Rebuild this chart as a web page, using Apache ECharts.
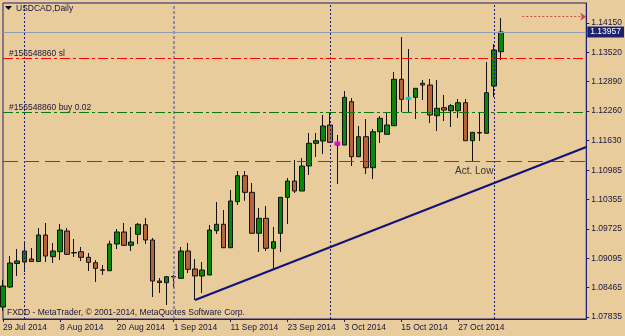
<!DOCTYPE html>
<html><head><meta charset="utf-8">
<script src="https://cdn.jsdelivr.net/npm/echarts@6.0.0/dist/echarts.min.js"></script>
<style>html,body{margin:0;padding:0;background:#e9cc9c;}#c{width:625px;height:336px;}</style>
</head><body><div id="c"></div><script>
const dates = ['29 Jul 2014','30 Jul 2014','31 Jul 2014','1 Aug 2014','4 Aug 2014','5 Aug 2014','6 Aug 2014','7 Aug 2014','8 Aug 2014','11 Aug 2014',
'12 Aug 2014','13 Aug 2014','14 Aug 2014','15 Aug 2014','18 Aug 2014','19 Aug 2014','20 Aug 2014','21 Aug 2014','22 Aug 2014','25 Aug 2014',
'26 Aug 2014','27 Aug 2014','28 Aug 2014','29 Aug 2014','1 Sep 2014','2 Sep 2014','3 Sep 2014','4 Sep 2014','5 Sep 2014','8 Sep 2014',
'9 Sep 2014','10 Sep 2014','11 Sep 2014','12 Sep 2014','15 Sep 2014','16 Sep 2014','17 Sep 2014','18 Sep 2014','19 Sep 2014','22 Sep 2014',
'23 Sep 2014','24 Sep 2014','25 Sep 2014','26 Sep 2014','29 Sep 2014','30 Sep 2014','1 Oct 2014','2 Oct 2014','3 Oct 2014','6 Oct 2014',
'7 Oct 2014','8 Oct 2014','9 Oct 2014','10 Oct 2014','13 Oct 2014','14 Oct 2014','15 Oct 2014','16 Oct 2014','17 Oct 2014','20 Oct 2014',
'21 Oct 2014','22 Oct 2014','23 Oct 2014','24 Oct 2014','27 Oct 2014','28 Oct 2014','29 Oct 2014','30 Oct 2014','31 Oct 2014','3 Nov 2014',
'4 Nov 2014','5 Nov 2014','6 Nov 2014','7 Nov 2014','10 Nov 2014','11 Nov 2014','12 Nov 2014','13 Nov 2014','14 Nov 2014','17 Nov 2014',
'18 Nov 2014','19 Nov 2014','20 Nov 2014'];
const opens = [1.08050,1.08479,1.08984,1.09016,1.09081,1.09027,1.09596,1.09130,1.09238,1.09682,
1.09220,1.09238,1.09117,1.09001,1.08849,1.08829,1.09403,1.09661,1.09375,1.09611,
1.09817,1.09489,1.08608,1.08572,1.08705,1.08666,1.09253,1.08866,1.08716,1.08737,
1.09689,1.09826,1.09323,1.10312,1.10870,1.10513,1.09633,1.09955,1.09311,1.09633,
1.10406,1.10756,1.10541,1.11078,1.11566,1.11615,1.11959,1.11572,1.11529,1.12460,
1.11278,1.11708,1.11042,1.11815,1.11759,1.11944,1.12941,1.12539,1.12554,1.12855,
1.12818,1.12159,1.12331,1.12266,1.12266,1.12438,1.11622,1.11798,1.11781,1.12797,
1.13534];
const highs = [1.08630,1.09145,1.09296,1.09425,1.09317,1.09747,1.09854,1.09425,1.09832,1.09747,
1.09510,1.09338,1.09210,1.09059,1.08952,1.09474,1.09725,1.09854,1.09768,1.09854,
1.09961,1.09532,1.08673,1.08716,1.08737,1.09338,1.09425,1.09081,1.09016,1.09811,
1.10305,1.10133,1.10563,1.10971,1.10971,1.10713,1.10176,1.10219,1.09768,1.10412,
1.10821,1.11207,1.11250,1.11787,1.11787,1.12174,1.12217,1.11744,1.12689,1.12539,
1.11938,1.12088,1.11873,1.12152,1.12217,1.13098,1.13849,1.13591,1.12754,1.12926,
1.12947,1.12926,1.12603,1.12410,1.12518,1.12518,1.11809,1.12217,1.13312,1.13699,
1.14257];
const lows = [1.07964,1.08458,1.08716,1.08802,1.09016,1.09016,1.09016,1.08995,1.09059,1.09167,
1.09124,1.09038,1.08823,1.08587,1.08737,1.08823,1.09296,1.09360,1.09253,1.09403,
1.09403,1.08264,1.08350,1.08093,1.08458,1.08651,1.08780,1.08200,1.08350,1.08737,
1.09618,1.09317,1.09317,1.10241,1.10333,1.09618,1.09231,1.09253,1.08844,1.09231,
1.09832,1.10498,1.10541,1.10885,1.11272,1.11336,1.11572,1.10692,1.11529,1.11078,
1.11272,1.10907,1.10799,1.11572,1.11759,1.11938,1.12238,1.12238,1.12088,1.12496,
1.12002,1.11830,1.12045,1.11916,1.12109,1.11615,1.11186,1.11615,1.11781,1.12560,
1.13355];
const closes = [1.08501,1.08995,1.09038,1.09253,1.09027,1.09596,1.09145,1.09253,1.09704,1.09182,
1.09210,1.09117,1.09010,1.08881,1.08840,1.09403,1.09661,1.09375,1.09446,1.09826,
1.09489,1.08608,1.08576,1.08700,1.08694,1.09253,1.08859,1.08716,1.08844,1.09704,
1.09826,1.09323,1.10327,1.10870,1.10513,1.09633,1.09955,1.09311,1.09452,1.10406,
1.10756,1.10541,1.11078,1.11566,1.11622,1.11938,1.11587,1.11529,1.12554,1.11278,
1.11708,1.11042,1.11815,1.12103,1.11959,1.12941,1.12511,1.12518,1.12747,1.12818,
1.12174,1.12318,1.12281,1.12374,1.12438,1.11622,1.11802,1.11787,1.12653,1.13570,
1.13957];
const yTicks = [1.07835,1.08465,1.09095,1.09725,1.10355,1.10985,1.11630,1.12260,1.12890,1.13520,1.14150];
const yMin = 1.07792, yMax = 1.14580;
const bidPrice = 1.13957;
const slPrice = 1.13400, slLabel = '#156548860 sl';
const buyPrice = 1.12230, buyLabel = '#156548860 buy 0.02';
const actLowPrice = 1.11180;
const monthSeparators = ['1 Aug 2014','1 Sep 2014','1 Oct 2014','3 Nov 2014'];
const trendFrom = ['4 Sep 2014', 1.08200];
const trendTo = ['20 Nov 2014', 1.11487];
const arrowFrom = ['7 Nov 2014', 1.14285];
const arrowTo = ['20 Nov 2014', 1.14285];
const buyMarker = [['2 Oct 2014', 1.11566]];
const closeMarker = [['16 Oct 2014', 1.12533]];

const nBars = opens.length;
const navy = '#1c1c78';
const txt = '#16163e';
const font = '"Liberation Sans", Arial, sans-serif';
const candleData = opens.map((o, i) => [o, closes[i], lows[i], highs[i]]);
const showIdx = (i) => i % 8 === 0 && i < nBars;

const chart = echarts.init(document.getElementById('c'));
chart.setOption({
  animation: false,
  backgroundColor: '#e9cc9c',
  grid: {left: 2, right: 38, top: 3, bottom: 17, show: true, borderColor: navy, borderWidth: 1, backgroundColor: 'transparent'},
  xAxis: {
    type: 'category', data: dates, boundaryGap: false,
    axisLine: {lineStyle: {color: navy}},
    axisTick: {interval: showIdx, length: 3, lineStyle: {color: navy}},
    axisLabel: {interval: showIdx, align: 'left', color: txt, fontSize: 8.5, fontFamily: font, margin: 4},
    splitLine: {show: false}
  },
  yAxis: {
    type: 'value', position: 'right', min: yMin, max: yMax,
    axisLine: {show: true, lineStyle: {color: navy}},
    axisTick: {show: true, customValues: yTicks, length: 3, lineStyle: {color: navy}},
    axisLabel: {customValues: yTicks, formatter: v => v.toFixed(5), color: txt, fontSize: 8.5, fontFamily: font, margin: 5},
    splitLine: {show: false}
  },
  graphic: [
    {type: 'polygon', shape: {points: [[5, 6], [12, 6], [8.5, 10]]}, style: {fill: '#000'}},
    {type: 'text', x: 16, y: 9, style: {text: 'USDCAD,Daily', fill: txt, font: '8.5px "Liberation Sans", Arial', textVerticalAlign: 'middle'}},
    {type: 'text', x: 455, y: 171, style: {text: 'Act. Low', fill: '#333333', font: '10px "Liberation Sans", Arial', textVerticalAlign: 'middle'}},
    {type: 'text', x: 7, y: 313, style: {text: 'FXDD - MetaTrader, \u00a9 2001-2014, MetaQuotes Software Corp.', fill: txt, font: '8.5px "Liberation Sans", Arial', textVerticalAlign: 'middle'}}
  ],
  series: [
    {
      type: 'line', data: [], z: 1, silent: true,
      markLine: {
        silent: true, symbol: ['none', 'none'], animation: false, precision: 5,
        label: {show: false},
        data: monthSeparators.map((d, k) => ({xAxis: d, lineStyle: {color: k === 1 ? '#7a72a8' : navy, type: k === 1 ? [3, 2] : [2, 2], width: k === 1 ? 1.5 : 1}}))
          .concat([{yAxis: actLowPrice, lineStyle: {color: '#4c5544', type: [15, 6], width: 1}}])
      }
    },
    {
      type: 'candlestick', data: candleData, z: 2, barWidth: 5, clip: true, silent: true,
      itemStyle: {color: '#0a870a', color0: '#b3643c', borderColor: '#111', borderColor0: '#111', borderWidth: 1}
    },
    {
      type: 'line', data: [], z: 3, silent: true,
      markLine: {
        silent: true, symbol: ['none', 'none'], animation: false, precision: 5,
        label: {show: false},
        data: [
          {yAxis: bidPrice, lineStyle: {color: '#8e9ab2', type: 'solid', width: 1},
           label: {show: true, position: 'end', formatter: bidPrice.toFixed(5), color: '#fff', backgroundColor: '#1c2270', padding: [1, 3, 1, 3], distance: 1, fontSize: 8.5, fontFamily: font}},
          {yAxis: slPrice, lineStyle: {color: '#ff0000', type: [10, 3, 3, 3], width: 1},
           label: {show: true, position: 'insideStartTop', formatter: slLabel, color: txt, fontSize: 8.5, fontFamily: font, distance: [6, 0]}},
          {yAxis: buyPrice, lineStyle: {color: '#0a7a0a', type: [10, 3, 3, 3], width: 1},
           label: {show: true, position: 'insideStartTop', formatter: buyLabel, color: txt, fontSize: 8.5, fontFamily: font, distance: [6, 0]}},
          [{coord: trendFrom}, {coord: trendTo, lineStyle: {color: '#12127a', width: 2, type: 'solid'}}],
          [{coord: arrowFrom, symbol: 'none'}, {coord: arrowTo, symbol: 'arrow', symbolSize: 6, lineStyle: {color: '#c4504c', width: 1, type: [2, 2]}}]
        ]
      }
    },
    {type: 'scatter', data: buyMarker, z: 4, symbol: 'rect', symbolSize: [6, 4], itemStyle: {color: '#ff00ff'}, silent: true},
    {type: 'scatter', data: closeMarker, z: 4, symbol: 'rect', symbolSize: [6, 3], itemStyle: {color: '#00e5ff'}, silent: true}
  ]
});
</script></body></html>
